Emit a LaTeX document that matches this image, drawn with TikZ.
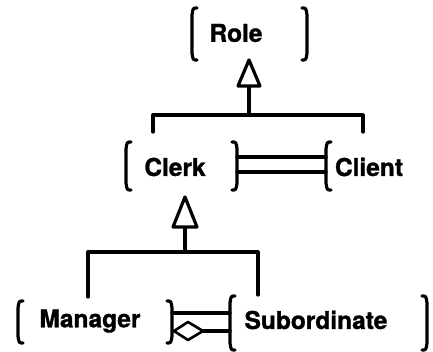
\documentclass[tikz,border=0pt]{standalone}
\usepackage{fontspec}
\setmainfont{TeX Gyre Heros}[BoldFeatures={FakeBold=1.2}]
\begin{document}
\begin{tikzpicture}[x=1pt,y=-1pt,
  ink/.style={line width=3.2pt,line cap=round,line join=round},
  label/.style={font=\fontsize{24.5}{28}\selectfont\bfseries,inner sep=0pt,anchor=center},
  gentri/.style={ink,fill=white},
  aggr/.style={ink,line width=2.6pt,fill=white}]
\useasboundingbox (0,0) rectangle (433,352);

% side bracket: x, top, bottom, direction (+1 opens right, -1 opens left)
\newcommand\sidebrk[4]{%
  \draw[ink] ({#1+5*#4},#2) .. controls ({#1+1*#4},#2) .. ({#1},{#2+7})
    -- ({#1},{#3-7}) .. controls ({#1+1*#4},#3) .. ({#1+5*#4},#3);}

% class labels
\node[label] (role)    at (236,33)  {Role};
\node[label] (clerk)   at (175,167) {Clerk};
\node[label] (client)  at (369,167) {Client};
\node[label] (manager) at (90,321)  {Manager};
\node[label] (sub)     at (316,320) {Subordinate};

% brackets around the classes
\sidebrk{192}{8}{60}{1}
\sidebrk{307}{8}{60}{-1}
\sidebrk{126}{142}{190}{1}
\sidebrk{237}{142}{190}{-1}
\sidebrk{326}{142}{190}{1}
\sidebrk{18}{301}{343}{1}
\sidebrk{172}{301}{343}{-1}
\sidebrk{230}{296}{350}{1}
\sidebrk{427}{296}{350}{-1}

% generalisation Role <- {Clerk, Client}
\coordinate (g1tip) at (249,60);
\coordinate (g1base) at (249,86);
\coordinate (g1bar) at (249,115);
\coordinate (g1l) at (153,115);
\coordinate (g1r) at (363,115);
\draw[ink] (g1base) -- (g1bar);
\draw[ink] (g1l |- 0,132) -- (g1l) -- (g1r) -- (g1r |- 0,132);
\draw[gentri] (g1tip) -- (238,86) -- (260,86) -- cycle;

% association Clerk -- Client (double line)
\coordinate (cc1) at (237,157);
\coordinate (cc2) at (237,172);
\draw[ink] (cc1) -- (cc1 -| 326,0);
\draw[ink] (cc2) -- (cc2 -| 326,0);

% generalisation Clerk <- {Manager, Subordinate}
\coordinate (g2tip) at (185,197);
\coordinate (g2base) at (185,227);
\coordinate (g2bar) at (185,252);
\coordinate (g2l) at (88,252);
\coordinate (g2r) at (258,252);
\draw[ink] (g2base) -- (g2bar);
\draw[ink] (g2l |- 0,297) -- (g2l) -- (g2r) -- (g2r |- 0,295);
\draw[gentri] (g2tip) -- (173,227) -- (197,227) -- cycle;

% Manager -- Subordinate: plain link and aggregation
\coordinate (ms1) at (172,313);
\coordinate (ms2) at (203,331);
\draw[ink] (ms1) -- (ms1 -| 230,0);
\draw[ink] (ms2) -- (ms2 -| 230,0);
\draw[aggr] (174,331) -- (188,322) -- (ms2) -- (188,340) -- cycle;
\end{tikzpicture}
\end{document}
